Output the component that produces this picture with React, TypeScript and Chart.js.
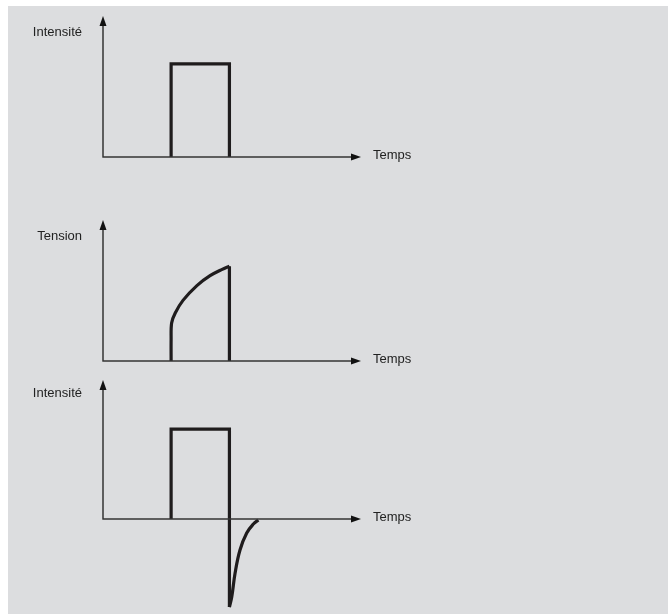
import React, { useEffect, useRef } from "react";
import { Chart, registerables } from "chart.js";

Chart.register(...registerables);

// ---- data ----
const axisLabels = ["Intensité", "Tension", "Intensité"];
const timeLabel = "Temps";
const timeRange = [0, 10];
const levelRanges = [
  [0, 10],
  [0, 10],
  [-6.5, 10],
];

// panel 1 : current pulse
const pulseTime = [2.64, 2.64, 4.9, 4.9];
const pulseCurrent = [0, 6.6, 6.6, 0];

// panel 2 : voltage
const riseTime = [2.64, 2.64, 2.66, 2.8, 3.1, 3.64, 4.15, 4.62, 4.9];
const riseVoltage = [0, 1.5, 2.7, 3.4, 4.3, 5.35, 6.05, 6.5, 6.72];
const dropTime = [4.9, 4.9];
const dropVoltage = [6.72, 0];

// panel 3 : current with negative spike
const rectTime = [2.64, 2.64, 4.9, 4.9];
const rectCurrent = [0, 6.47, 6.47, -6.33];
const recoveryTime = [4.9, 4.99, 5.12, 5.31, 5.57, 5.83, 6.02];
const recoveryCurrent = [-6.33, -5.61, -3.88, -2.23, -1.01, -0.36, -0.07];

const zip = (xs: number[], ys: number[]) => xs.map((x, i) => ({ x, y: ys[i] }));

const INK = "#1f1c1d";
const AXIS = "#353535";
const FONT = "13px 'Liberation Sans', Arial, sans-serif";

const axesPlugin = {
  id: "arrowAxes",
  afterDatasetsDraw(chart: any, _args: any, opts: any) {
    const { ctx } = chart;
    const xs = chart.scales.x;
    const ys = chart.scales.y;
    const x0 = xs.getPixelForValue(0);
    const xEnd = xs.getPixelForValue(xs.max);
    const y0 = ys.getPixelForValue(0);
    const yEnd = ys.getPixelForValue(ys.max);
    ctx.save();
    ctx.strokeStyle = AXIS;
    ctx.fillStyle = AXIS;
    ctx.lineWidth = 1.5;
    ctx.beginPath();
    ctx.moveTo(x0, y0);
    ctx.lineTo(x0, yEnd + 8);
    ctx.moveTo(x0 - 0.7, y0);
    ctx.lineTo(xEnd - 8, y0);
    ctx.stroke();
    // arrow heads
    ctx.fillStyle = "#111";
    ctx.beginPath();
    ctx.moveTo(x0, yEnd);
    ctx.lineTo(x0 - 3.5, yEnd + 10);
    ctx.lineTo(x0 + 3.5, yEnd + 10);
    ctx.closePath();
    ctx.fill();
    ctx.beginPath();
    ctx.moveTo(xEnd, y0);
    ctx.lineTo(xEnd - 10, y0 - 3.5);
    ctx.lineTo(xEnd - 10, y0 + 3.5);
    ctx.closePath();
    ctx.fill();
    // labels
    ctx.font = FONT;
    ctx.fillStyle = "#222";
    ctx.textBaseline = "middle";
    ctx.textAlign = "right";
    ctx.fillText(opts.yLabel, x0 - 21, yEnd + opts.yLabelOffset);
    ctx.textAlign = "left";
    ctx.fillText(opts.xLabel, xEnd + 12, y0 - 1.5);
    ctx.restore();
  },
};

type Panel = {
  top: number;
  height: number;
  pad: { top: number; bottom: number };
  range: number[];
  yLabel: string;
  yLabelOffset: number;
  sets: { data: { x: number; y: number }[]; tension: number }[];
};

const panels: Panel[] = [
  {
    top: 0,
    height: 200,
    pad: { top: 16, bottom: 43 },
    range: levelRanges[0],
    yLabel: axisLabels[0],
    yLabelOffset: 16.5,
    sets: [{ data: zip(pulseTime, pulseCurrent), tension: 0 }],
  },
  {
    top: 200,
    height: 180,
    pad: { top: 20, bottom: 19 },
    range: levelRanges[1],
    yLabel: axisLabels[1],
    yLabelOffset: 16,
    sets: [
      { data: zip(riseTime, riseVoltage), tension: 0.35 },
      { data: zip(dropTime, dropVoltage), tension: 0 },
    ],
  },
  {
    top: 378,
    height: 236,
    pad: { top: 2, bottom: 4.6 },
    range: levelRanges[2],
    yLabel: axisLabels[2],
    yLabelOffset: 13,
    sets: [
      { data: zip(rectTime, rectCurrent), tension: 0 },
      { data: zip(recoveryTime, recoveryCurrent), tension: 0.4 },
    ],
  },
];

function PanelChart({ p }: { p: Panel }) {
  const ref = useRef<HTMLCanvasElement>(null);
  useEffect(() => {
    if (!ref.current) return;
    const chart = new Chart(ref.current, {
      type: "scatter",
      data: {
        datasets: p.sets.map((s) => ({
          data: s.data,
          showLine: true,
          tension: s.tension,
          borderColor: INK,
          borderWidth: 3.2,
          borderJoinStyle: "miter",
          borderCapStyle: "butt",
          pointRadius: 0,
          fill: false,
          clip: false,
        })) as any,
      },
      options: {
        animation: false,
        responsive: false,
        events: [],
        layout: { padding: { left: 103, right: 307, top: p.pad.top, bottom: p.pad.bottom } },
        plugins: {
          legend: { display: false },
          tooltip: { enabled: false },
          arrowAxes: { yLabel: p.yLabel, xLabel: timeLabel, yLabelOffset: p.yLabelOffset },
        } as any,
        scales: {
          x: { type: "linear", min: timeRange[0], max: timeRange[1], display: false },
          y: { type: "linear", min: p.range[0], max: p.range[1], display: false },
        },
      },
      plugins: [axesPlugin],
    });
    return () => chart.destroy();
  }, [p]);
  return (
    <canvas
      ref={ref}
      width={668}
      height={p.height}
      style={{ position: "absolute", left: 0, top: p.top, width: 668, height: p.height }}
    />
  );
}

export default function App() {
  return (
    <div
      style={{
        position: "fixed",
        left: 0,
        top: 0,
        width: 668,
        height: 614,
        background: "#ffffff",
        overflow: "hidden",
      }}
    >
      <div
        style={{
          position: "absolute",
          left: 8,
          top: 6,
          width: 660,
          height: 608,
          background: "#dcdddf",
        }}
      />
      {panels.map((p, i) => (
        <PanelChart key={i} p={p} />
      ))}
    </div>
  );
}
